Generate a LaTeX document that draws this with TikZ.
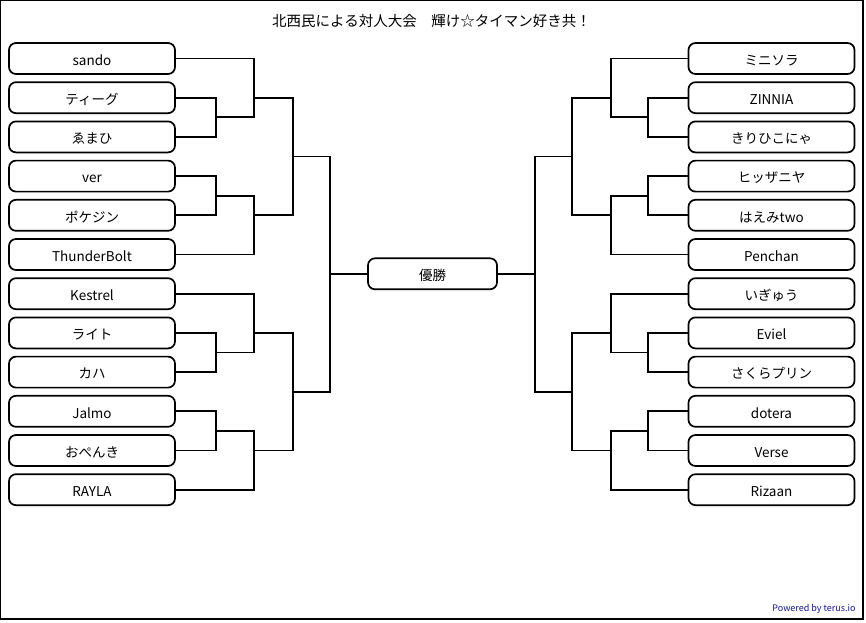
\documentclass[tikz,border=0pt]{standalone}
\usepackage{fontspec}
\setmainfont{Noto Sans CJK JP}
\usetikzlibrary{positioning}
\usepackage{xcolor}
\definecolor{creditblue}{RGB}{20,20,170}
\tikzset{
  player/.style={draw, line width=1.7pt, rounded corners=7pt, minimum width=166pt, minimum height=31pt, inner sep=0pt, text height=13.5pt, text depth=0pt, font=\fontsize{13.5}{13.5}\selectfont},
  wire/.style={line width=1.7pt},
}

\begin{document}
\begin{tikzpicture}[x=1pt, y=-1pt]
  \useasboundingbox (0,0) rectangle (866,622);
  \draw[line width=1.2pt] (0.6,0.6) rectangle (863,619);
  \node[font=\fontsize{14.5}{14.5}\selectfont] (title) at (431.5,21) {北西民による対人大会　輝け☆タイマン好き共！};

  \foreach \who [count=\i] in {sando, ティーグ, ゑまひ, ver, ポケジン, ThunderBolt, Kestrel, ライト, カハ, Jalmo, おぺんき, RAYLA}
    \node[player] (pl\i) at (92, {58.5+39.2*(\i-1)}) {\who};
  \foreach \who [count=\i] in {ミニソラ, ZINNIA, きりひこにゃ, ヒッザニヤ, はえみtwo, Penchan, いぎゅう, Eviel, さくらプリン, dotera, Verse, Rizaan}
    \node[player] (pr\i) at (771.5, {58.5+39.2*(\i-1)}) {\who};

  \node[player, minimum width=129pt] (yusho) at (432.5,273.8) {優勝};

  \coordinate (la1) at (216,117.3);
  \coordinate (lb1) at (254,97.7);
  \coordinate (la2) at (216,195.7);
  \coordinate (lb2) at (254,215.3);
  \coordinate (la3) at (216,352.5);
  \coordinate (lb3) at (254,332.9);
  \coordinate (la4) at (216,430.9);
  \coordinate (lb4) at (254,450.5);
  \coordinate (lm1) at (293,156.5);
  \coordinate (lm2) at (293,391.7);
  \coordinate (lf) at (330,273.8);
  \draw[wire] (pl2.east) -| (la1) |- (pl3.east);
  \draw[wire] (pl1.east) -| (lb1) |- (la1);
  \draw[wire] (pl4.east) -| (la2) |- (pl5.east);
  \draw[wire] (pl6.east) -| (lb2) |- (la2);
  \draw[wire] (pl8.east) -| (la3) |- (pl9.east);
  \draw[wire] (pl7.east) -| (lb3) |- (la3);
  \draw[wire] (pl10.east) -| (la4) |- (pl11.east);
  \draw[wire] (pl12.east) -| (lb4) |- (la4);
  \draw[wire] (lb1) -| (lm1) |- (lb2);
  \draw[wire] (lb3) -| (lm2) |- (lb4);
  \draw[wire] (lm1) -| (lf) |- (lm2);
  \draw[wire] (lf) -- (yusho.west);

  \coordinate (ra1) at (648,117.3);
  \coordinate (rb1) at (611,97.7);
  \coordinate (ra2) at (648,195.7);
  \coordinate (rb2) at (611,215.3);
  \coordinate (ra3) at (648,352.5);
  \coordinate (rb3) at (611,332.9);
  \coordinate (ra4) at (648,430.9);
  \coordinate (rb4) at (611,450.5);
  \coordinate (rm1) at (572,156.5);
  \coordinate (rm2) at (572,391.7);
  \coordinate (rf) at (535,273.8);
  \draw[wire] (pr2.west) -| (ra1) |- (pr3.west);
  \draw[wire] (pr1.west) -| (rb1) |- (ra1);
  \draw[wire] (pr4.west) -| (ra2) |- (pr5.west);
  \draw[wire] (pr6.west) -| (rb2) |- (ra2);
  \draw[wire] (pr8.west) -| (ra3) |- (pr9.west);
  \draw[wire] (pr7.west) -| (rb3) |- (ra3);
  \draw[wire] (pr10.west) -| (ra4) |- (pr11.west);
  \draw[wire] (pr12.west) -| (rb4) |- (ra4);
  \draw[wire] (rb1) -| (rm1) |- (rb2);
  \draw[wire] (rb3) -| (rm2) |- (rb4);
  \draw[wire] (rm1) -| (rf) |- (rm2);
  \draw[wire] (rf) -- (yusho.east);

  \node[font=\fontsize{9}{9}\selectfont, text=creditblue, anchor=east] (credit) at (859,609) {Powered by terus.io};
\end{tikzpicture}
\end{document}
